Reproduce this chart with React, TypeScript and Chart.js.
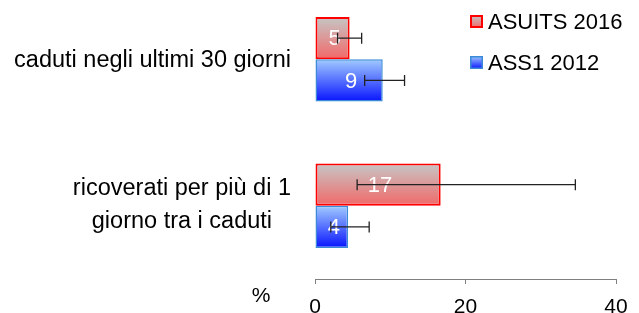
import React, { useEffect, useRef } from 'react';
import { Chart, registerables } from 'chart.js';

Chart.register(...registerables);

// ---- data ----
const categories: string[][] = [
  ['caduti negli ultimi 30 giorni'],
  ['ricoverati per più di 1', 'giorno tra i caduti'],
];
const seriesNames = ['ASUITS 2016', 'ASS1 2012'];
const asuitsValues = [4.6, 16.7];
const ass1Values = [9.0, 4.4];
const asuitsLow = [3.0, 5.6];
const asuitsHigh = [6.2, 34.6];
const ass1Low = [6.6, 2.1];
const ass1High = [11.9, 7.2];
const xTicks = [0, 20, 40];
const axisUnit = '%';

const FONT = '"Liberation Sans", Arial, sans-serif';

const gradientPlugin = {
  id: 'barGradient',
  beforeDatasetDraw(chart: any, args: any) {
    const meta = args.meta;
    const ds: any = chart.data.datasets[args.index];
    meta.data.forEach((el: any) => {
      const { y, height } = el.getProps(['y', 'height'], true);
      const g = chart.ctx.createLinearGradient(0, y - height / 2, 0, y + height / 2);
      g.addColorStop(0, ds.gradTop);
      g.addColorStop(1, ds.gradBottom);
      el.options = Object.assign({}, el.options, { backgroundColor: g });
    });
  },
};

const overlayPlugin = {
  id: 'overlay',
  afterDatasetsDraw(chart: any) {
    const ctx = chart.ctx;
    const xs = chart.scales.x;
    const ys = chart.scales.y;
    const area = chart.chartArea;
    ctx.save();
    // data labels
    chart.data.datasets.forEach((ds: any, di: number) => {
      const meta = chart.getDatasetMeta(di);
      meta.data.forEach((el: any, i: number) => {
        const { x, y, base } = el.getProps(['x', 'y', 'base'], true);
        ctx.fillStyle = '#ffffff';
        ctx.font = `22px ${FONT}`;
        ctx.textAlign = 'center';
        ctx.textBaseline = 'middle';
        ctx.fillText(String(Math.round(ds.data[i].x)), (x + base) / 2 + 2, y + 1);
      });
    });
    // error bars
    chart.data.datasets.forEach((ds: any, di: number) => {
      const meta = chart.getDatasetMeta(di);
      meta.data.forEach((el: any, i: number) => {
        const { y } = el.getProps(['y'], true);
        const x1 = xs.getPixelForValue(ds.errLow[i]);
        const x2 = xs.getPixelForValue(ds.errHigh[i]);
        ctx.strokeStyle = '#222222';
        ctx.lineWidth = 1.3;
        ctx.beginPath();
        ctx.moveTo(x1, y);
        ctx.lineTo(x2, y);
        ctx.moveTo(x1, y - 5.5);
        ctx.lineTo(x1, y + 5.5);
        ctx.moveTo(x2, y - 5.5);
        ctx.lineTo(x2, y + 5.5);
        ctx.stroke();
      });
    });
    // category labels
    ctx.fillStyle = '#000000';
    ctx.font = `23.5px ${FONT}`;
    ctx.textAlign = 'center';
    ctx.textBaseline = 'middle';
    const right = area.left - 24;
    const lh = 33;
    categories.forEach((lines, i) => {
      const cy = ys.getPixelForValue(i);
      const widest = Math.max(...lines.map((l) => ctx.measureText(l).width));
      const cx = right - widest / 2;
      const y0 = cy - ((lines.length - 1) * lh) / 2 + 1;
      lines.forEach((l, k) => ctx.fillText(l, cx, y0 + k * lh - (lines.length > 1 ? 2 : 0)));
    });
    // axis unit
    ctx.font = `21px ${FONT}`;
    ctx.fillText(axisUnit, 261, 296);
    // legend
    chart.data.datasets.forEach((ds: any, di: number) => {
      const bx = 470;
      const by = 15 + di * 41;
      const g = ctx.createLinearGradient(0, by, 0, by + 13);
      g.addColorStop(0, ds.gradTop);
      g.addColorStop(1, ds.gradBottom);
      ctx.fillStyle = g;
      ctx.fillRect(bx, by, 13, 13);
      ctx.strokeStyle = ds.borderColor;
      ctx.lineWidth = ds.borderWidth;
      ctx.strokeRect(bx + ds.borderWidth / 2, by + ds.borderWidth / 2, 13 - ds.borderWidth, 13 - ds.borderWidth);
      ctx.fillStyle = '#000000';
      ctx.font = `22px ${FONT}`;
      ctx.textAlign = 'left';
      ctx.textBaseline = 'middle';
      ctx.fillText(ds.label, 488, by + 7.5);
    });
    ctx.restore();
  },
};

export default function App() {
  const ref = useRef<HTMLCanvasElement | null>(null);
  useEffect(() => {
    if (!ref.current) return;
    const chart = new Chart(ref.current, {
      type: 'bar',
      data: {
        datasets: [
          {
            label: seriesNames[0],
            data: asuitsValues.map((v, i) => ({ x: v, y: i })),
            errLow: asuitsLow,
            errHigh: asuitsHigh,
            gradTop: '#c6c6c6',
            gradBottom: '#f26868',
            backgroundColor: '#e09090',
            borderColor: '#ff0000',
            borderWidth: 2,
            borderSkipped: false,
          } as any,
          {
            label: seriesNames[1],
            data: ass1Values.map((v, i) => ({ x: v, y: i })),
            errLow: ass1Low,
            errHigh: ass1High,
            gradTop: '#a2cbff',
            gradBottom: '#0814ff',
            backgroundColor: '#5080ff',
            borderColor: '#3a8ad8',
            borderWidth: 1.5,
            borderSkipped: false,
          } as any,
        ],
      },
      options: {
        indexAxis: 'y',
        animation: false,
        responsive: true,
        maintainAspectRatio: false,
        layout: { padding: { left: 315, right: 23, top: 0, bottom: 0 } },
        datasets: { bar: { categoryPercentage: 0.577, barPercentage: 1 } },
        scales: {
          y: {
            type: 'linear',
            reverse: true,
            offset: false,
            min: -0.405,
            max: 1.5,
            display: false,
            afterBuildTicks: (s: any) => {
              s.ticks = categories.map((_, i) => ({ value: i }));
            },
          },
          x: {
            type: 'linear',
            min: 0,
            max: 40,
            afterBuildTicks: (s: any) => {
              s.ticks = xTicks.map((v) => ({ value: v }));
            },
            afterFit: (s: any) => {
              s.height = 34;
            },
            grid: { drawOnChartArea: false, color: '#808080', tickLength: 5 },
            border: { color: '#808080' },
            ticks: { font: { family: FONT, size: 21 }, color: '#000000', padding: 11 },
          },
        } as any,
        plugins: { legend: { display: false }, tooltip: { enabled: false } },
      },
      plugins: [gradientPlugin, overlayPlugin],
    });
    return () => chart.destroy();
  }, []);
  return (
    <div style={{ position: 'fixed', left: 0, top: 0, width: 639, height: 313 }}>
      <canvas ref={ref} />
    </div>
  );
}
